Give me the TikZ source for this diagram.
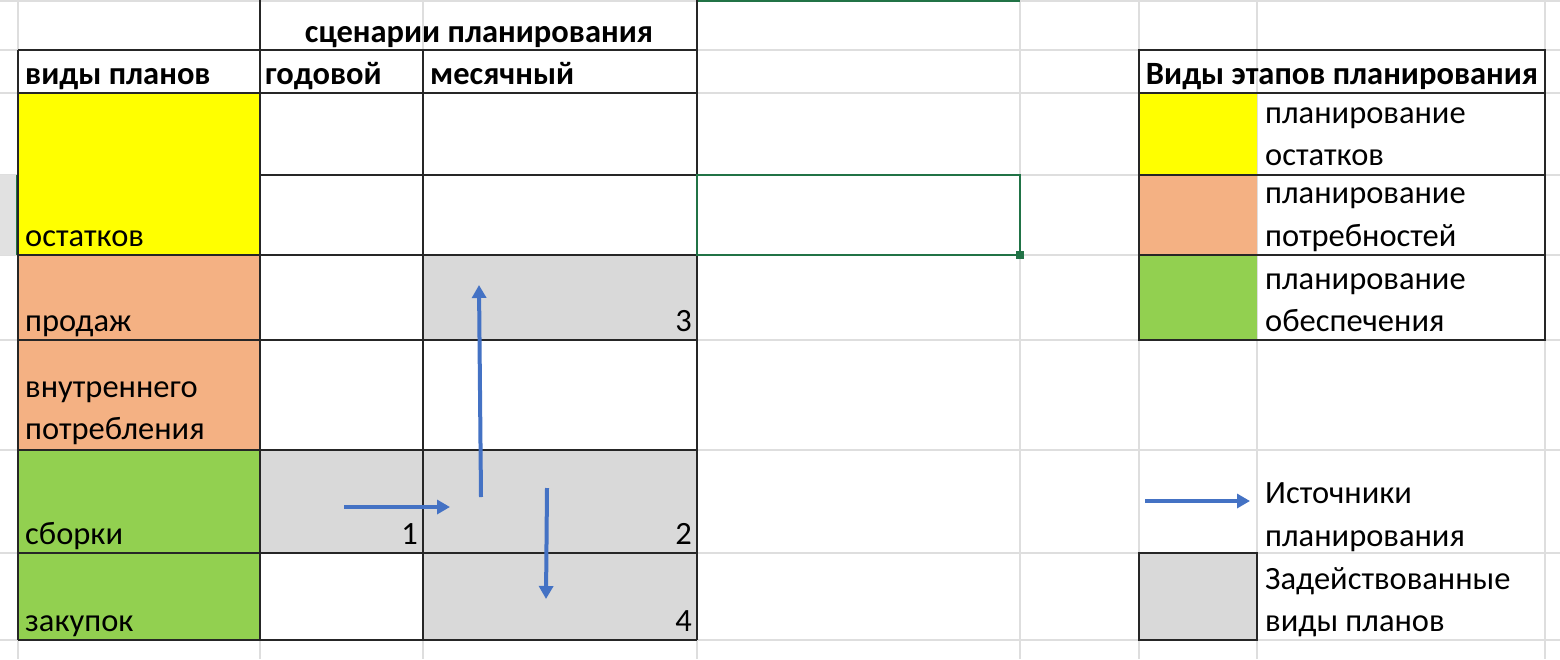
\documentclass[tikz,border=0pt]{standalone}
\usepackage{fontspec}
\setmainfont{Carlito}
\usetikzlibrary{arrows.meta}
\definecolor{gridc}{HTML}{DEDEDE}
\definecolor{ylw}{HTML}{FFFF00}
\definecolor{org}{HTML}{F4B183}
\definecolor{grn}{HTML}{92D050}
\definecolor{gry}{HTML}{D9D9D9}
\definecolor{blu}{HTML}{4472C4}
\definecolor{xlg}{HTML}{217346}
\definecolor{hdr}{HTML}{E1E1E1}
\begin{document}
\begin{tikzpicture}[x=1pt,y=-1pt,
  txt/.style={font=\fontsize{32.5}{40}\selectfont, inner sep=0pt, anchor=base west},
  btxt/.style={txt, font=\fontsize{32.5}{40}\selectfont\bfseries},
  num/.style={txt, anchor=base east},
  gridline/.style={draw=gridc, line width=1.2pt},
  border/.style={draw=black!85, line width=1.6pt},
  srcarrow/.style={draw=blu, line width=4pt, -{Triangle[length=13pt,width=14pt]}}
]
\useasboundingbox (0,0) rectangle (1560,659);
\fill[white] (0,0) rectangle (1560,659);
% grid lines
\foreach \gx in {18,260,423,697,1020,1139,1257,1545} \draw[gridline] (\gx,0) -- (\gx,659);
\foreach \gy in {1,50,93,175,255,340,450,553,640} \draw[gridline] (0,\gy) -- (1560,\gy);
% row header highlight
\fill[hdr] (0,175) rectangle (17,255);
\draw[xlg, line width=1.8pt] (17,175) -- (17,255);
% column header highlight
\draw[xlg, line width=2.4pt] (697,1) -- (1020,1);
% cell fills
\fill[ylw] (18,93) rectangle (260,255);
\fill[org] (18,255) rectangle (260,450);
\fill[grn] (18,450) rectangle (260,640);
\fill[gry] (260,450) rectangle (423,553);
\fill[gry] (423,255) rectangle (697,340);
\fill[gry] (423,450) rectangle (697,640);
% main table borders
\draw[border] (260,0) -- (260,640);
\draw[border] (697,0) -- (697,640);
\draw[border] (423,50) -- (423,640);
\draw[border] (18,50) -- (18,640);
\foreach \by in {50,93,255,340,450,553,640} \draw[border] (18,\by) -- (697,\by);
\draw[border] (260,175) -- (697,175);
% selection box
\draw[xlg, line width=2.8pt] (697,175) rectangle (1020,255);
\fill[xlg] (1016,251) rectangle (1024,259);
% legend table
\fill[ylw] (1139,93) rectangle (1257,175);
\fill[org] (1139,175) rectangle (1257,255);
\fill[grn] (1139,255) rectangle (1257,340);
\draw[border] (1139,50) rectangle (1545,340);
\foreach \by in {93,175,255} \draw[border] (1139,\by) -- (1545,\by);
\fill[gry] (1139,553) rectangle (1257,640);
\draw[border] (1139,553) rectangle (1257,640);
% texts main table
\node[btxt, anchor=base] (hscen) at (479,42) {сценарии планирования};
\node[btxt] (hvid) at (25,84) {виды планов};
\node[btxt] (hgod) at (265,84) {годовой};
\node[btxt] (hmes) at (430,84) {месячный};
\node[txt] (tost) at (25,246) {остатков};
\node[txt] (tprod) at (25,331) {продаж};
\node[txt] (tvn1) at (25,397) {внутреннего};
\node[txt] (tvn2) at (25,439) {потребления};
\node[txt] (tsb) at (25,544) {сборки};
\node[txt] (tzak) at (25,631) {закупок};
\node[num] (n1) at (418,544) {1};
\node[num] (n2) at (692,544) {2};
\node[num] (n3) at (692,331) {3};
\node[num] (n4) at (692,631) {4};
% legend texts
\node[btxt, anchor=base] (lhead) at (1342,84) {Виды этапов планирования};
\node[txt] (l1a) at (1265,123) {планирование};
\node[txt] (l1b) at (1265,165) {остатков};
\node[txt] (l2a) at (1265,203) {планирование};
\node[txt] (l2b) at (1265,246) {потребностей};
\node[txt] (l3a) at (1265,289) {планирование};
\node[txt] (l3b) at (1265,331) {обеспечения};
\node[txt] (l4a) at (1265,503) {Источники};
\node[txt] (l4b) at (1265,546) {планирования};
\node[txt] (l5a) at (1265,589) {Задействованные};
\node[txt] (l5b) at (1265,631) {виды планов};
% arrows
\coordinate (a1s) at (344,507);
\coordinate (a1e) at (450,507);
\coordinate (a2s) at (481,497);
\coordinate (a2e) at (479,285);
\coordinate (a3s) at (547,488);
\coordinate (a3e) at (546,599);
\coordinate (a4s) at (1145,501);
\coordinate (a4e) at (1250,501);
\draw[srcarrow] (a1s) -- (a1e);
\draw[srcarrow] (a2s) -- (a2e);
\draw[srcarrow] (a3s) -- (a3e);
\draw[srcarrow] (a4s) -- (a4e);
\end{tikzpicture}
\end{document}
